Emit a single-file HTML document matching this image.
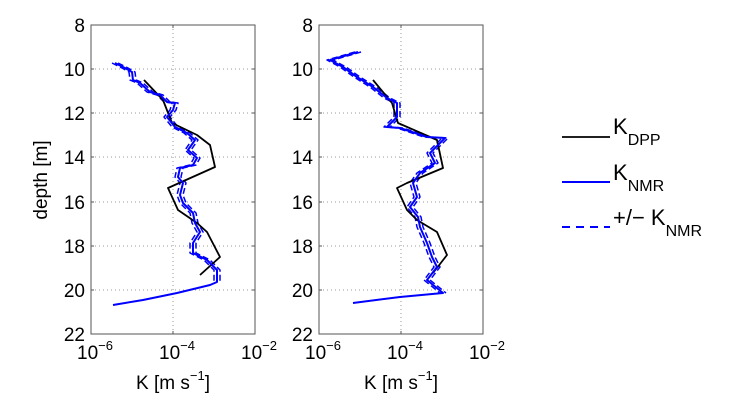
<!DOCTYPE html>
<html><head><meta charset="utf-8"><style>body{margin:0;background:#fff}svg{display:block}</style></head><body>
<svg width="750" height="413" viewBox="0 0 750 413" xmlns="http://www.w3.org/2000/svg" font-family="Liberation Sans, sans-serif">
<defs>
<g id="grid">
<g stroke="#999" stroke-width="1" stroke-dasharray="1,3">
<line x1="0" y1="44" x2="164" y2="44"/><line x1="0" y1="88" x2="164" y2="88"/><line x1="0" y1="132" x2="164" y2="132"/><line x1="0" y1="177" x2="164" y2="177"/><line x1="0" y1="221" x2="164" y2="221"/><line x1="0" y1="265" x2="164" y2="265"/>
<line x1="82" y1="0" x2="82" y2="309"/>
</g>
<rect x="0" y="0" width="164" height="309" fill="none" stroke="#555" stroke-width="1"/>
<g stroke="#555"><line x1="0" y1="44" x2="3" y2="44"/><line x1="0" y1="88" x2="3" y2="88"/><line x1="0" y1="132" x2="3" y2="132"/><line x1="0" y1="177" x2="3" y2="177"/><line x1="0" y1="221" x2="3" y2="221"/><line x1="0" y1="265" x2="3" y2="265"/>
<line x1="164" y1="44" x2="161" y2="44"/><line x1="164" y1="88" x2="161" y2="88"/><line x1="164" y1="132" x2="161" y2="132"/><line x1="164" y1="177" x2="161" y2="177"/><line x1="164" y1="221" x2="161" y2="221"/><line x1="164" y1="265" x2="161" y2="265"/>
<line x1="82" y1="309" x2="82" y2="306"/><line x1="82" y1="0" x2="82" y2="3"/></g>
<g font-size="19" text-anchor="middle">
<text x="4" y="334">10<tspan dy="-9" font-size="13">−6</tspan></text>
<text x="86" y="334">10<tspan dy="-9" font-size="13">−4</tspan></text>
<text x="168" y="334">10<tspan dy="-9" font-size="13">−2</tspan></text>
<text x="82" y="364">K [m s<tspan dy="-9" font-size="13">−1</tspan><tspan dy="9">]</tspan></text>
</g>
</g>
</defs>
<g transform="translate(91,25)"><use href="#grid"/></g>
<g transform="translate(319,25)"><use href="#grid"/></g>
<g font-size="19" text-anchor="end">
<text x="85" y="32">8</text><text x="85" y="76">10</text><text x="85" y="120">12</text><text x="85" y="164">14</text><text x="85" y="209">16</text><text x="85" y="253">18</text><text x="85" y="297">20</text><text x="85" y="341">22</text>
<text x="313" y="32">8</text><text x="313" y="76">10</text><text x="313" y="120">12</text><text x="313" y="164">14</text><text x="313" y="209">16</text><text x="313" y="253">18</text><text x="313" y="297">20</text><text x="313" y="341">22</text>
</g>
<text x="0" y="0" font-size="19" text-anchor="middle" transform="translate(47,180) rotate(-90)">depth [m]</text>

<!-- left -->
<g fill="none" stroke-linejoin="round">
<polyline stroke="#00f" stroke-width="1.5" stroke-dasharray="6,3" transform="translate(-3,0)" points="115,63 125,68 132,72 133,80 140,83 150,92 160,95 167,102 175,103 173,110 167,117 175,127 187,133 195,140 188,150 197,158 193,165 180,168 178,177 183,183 180,195 183,203 193,213 195,223 200,232 193,243 193,253 207,260 217,270 217,282"/>
<polyline stroke="#00f" stroke-width="1.5" stroke-dasharray="6,3" transform="translate(3,0)" points="115,63 125,68 132,72 133,80 140,83 150,92 160,95 167,102 175,103 173,110 167,117 175,127 187,133 195,140 188,150 197,158 193,165 180,168 178,177 183,183 180,195 183,203 193,213 195,223 200,232 193,243 193,253 207,260 217,270 217,282"/>
<polyline stroke="#000" stroke-width="1.8" points="144,80 163,100 172,123 197,135 210,145 215,167 168,188 178,210 197,223 207,232 220,257 200,275"/>
<polyline stroke="#00f" stroke-width="2" points="115,63 125,68 132,72 133,80 140,83 150,92 160,95 167,102 175,103 173,110 167,117 175,127 187,133 195,140 188,150 197,158 193,165 180,168 178,177 183,183 180,195 183,203 193,213 195,223 200,232 193,243 193,253 207,260 217,270 217,282 210,285 177,293 143,300 113,305"/>
</g>
<!-- right -->
<g fill="none" stroke-linejoin="round">
<polyline stroke="#00f" stroke-width="1.5" stroke-dasharray="6,3" transform="translate(-3,0)" points="358,52 330,60 343,67 357,77 373,87 387,98 397,103 397,117 387,127 400,128 427,137 445,138 430,153 435,163 420,173 413,183 417,197 410,207 418,217 420,227 427,243 432,257 437,267 427,280 443,293"/>
<polyline stroke="#00f" stroke-width="1.5" stroke-dasharray="6,3" transform="translate(3,0)" points="358,52 330,60 343,67 357,77 373,87 387,98 397,103 397,117 387,127 400,128 427,137 445,138 430,153 435,163 420,173 413,183 417,197 410,207 418,217 420,227 427,243 432,257 437,267 427,280 443,293"/>
<polyline stroke="#000" stroke-width="1.8" points="373,80 392,103 398,123 437,140 443,168 407,183 397,188 407,210 417,220 437,232 447,255 433,273"/>
<polyline stroke="#00f" stroke-width="2" points="358,52 330,60 343,67 357,77 373,87 387,98 397,103 397,117 387,127 400,128 427,137 445,138 430,153 435,163 420,173 413,183 417,197 410,207 418,217 420,227 427,243 432,257 437,267 427,280 443,293 400,297 353,303"/>
</g>
<!-- legend -->
<line x1="562" y1="137" x2="610" y2="137" stroke="#000" stroke-width="1.8"/>
<line x1="562" y1="182" x2="610" y2="182" stroke="#00f" stroke-width="2"/>
<line x1="562" y1="227" x2="610" y2="227" stroke="#00f" stroke-width="2" stroke-dasharray="8,6"/>
<g font-size="22">
<text x="613" y="134">K<tspan font-size="16" dy="11">DPP</tspan></text>
<text x="613" y="180">K<tspan font-size="16" dy="11">NMR</tspan></text>
<text x="613" y="225">+/− K<tspan font-size="16" dy="11">NMR</tspan></text>
</g>
</svg>
</body></html>
